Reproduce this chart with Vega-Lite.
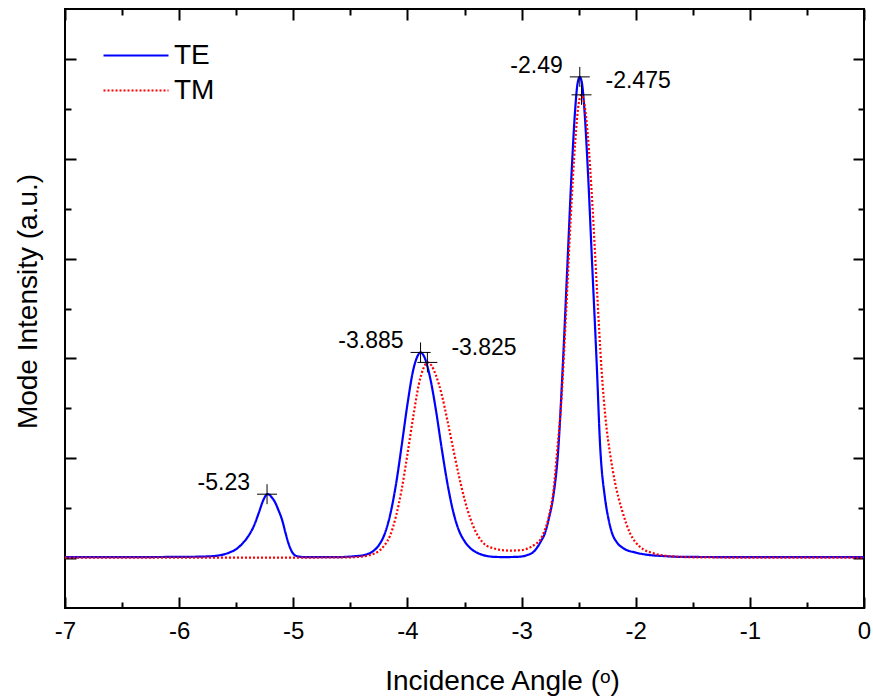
{
  "$schema": "https://vega.github.io/schema/vega-lite/v6.json",
  "width": 799,
  "height": 599,
  "autosize": "none",
  "padding": {"left": 65, "top": 9, "right": 9, "bottom": 89},
  "background": "white",
  "config": {
    "font": "Liberation Sans",
    "view": {"stroke": "black", "strokeWidth": 2},
    "axis": {"domain": false, "grid": false, "tickColor": "black", "tickWidth": 2, "labelColor": "black", "titleColor": "black", "titleFontWeight": "normal"}
  },
  "datasets": {
    "curves": [
      {"x": -7.0, "v": 0.01, "mode": "TE"}, {"x": -6.5, "v": 0.01, "mode": "TE"}, {"x": -6.0, "v": 0.012, "mode": "TE"},
      {"x": -5.8, "v": 0.015, "mode": "TE"}, {"x": -5.7, "v": 0.02, "mode": "TE"}, {"x": -5.6, "v": 0.04, "mode": "TE"},
      {"x": -5.55, "v": 0.06, "mode": "TE"}, {"x": -5.5, "v": 0.09, "mode": "TE"}, {"x": -5.45, "v": 0.14, "mode": "TE"},
      {"x": -5.4, "v": 0.21, "mode": "TE"}, {"x": -5.35, "v": 0.31, "mode": "TE"}, {"x": -5.3, "v": 0.46, "mode": "TE"},
      {"x": -5.27, "v": 0.56, "mode": "TE"}, {"x": -5.245, "v": 0.62, "mode": "TE"}, {"x": -5.23, "v": 0.64, "mode": "TE"},
      {"x": -5.21, "v": 0.635, "mode": "TE"}, {"x": -5.19, "v": 0.61, "mode": "TE"}, {"x": -5.16, "v": 0.56, "mode": "TE"},
      {"x": -5.13, "v": 0.48, "mode": "TE"}, {"x": -5.1, "v": 0.39, "mode": "TE"}, {"x": -5.07, "v": 0.26, "mode": "TE"},
      {"x": -5.04, "v": 0.14, "mode": "TE"}, {"x": -5.01, "v": 0.06, "mode": "TE"}, {"x": -4.97, "v": 0.02, "mode": "TE"},
      {"x": -4.9, "v": 0.01, "mode": "TE"}, {"x": -4.6, "v": 0.01, "mode": "TE"}, {"x": -4.45, "v": 0.02, "mode": "TE"},
      {"x": -4.4, "v": 0.025, "mode": "TE"}, {"x": -4.35, "v": 0.04, "mode": "TE"}, {"x": -4.3, "v": 0.07, "mode": "TE"},
      {"x": -4.25, "v": 0.13, "mode": "TE"}, {"x": -4.2, "v": 0.24, "mode": "TE"}, {"x": -4.15, "v": 0.44, "mode": "TE"},
      {"x": -4.1, "v": 0.74, "mode": "TE"}, {"x": -4.05, "v": 1.13, "mode": "TE"}, {"x": -4.0, "v": 1.54, "mode": "TE"},
      {"x": -3.95, "v": 1.88, "mode": "TE"}, {"x": -3.92, "v": 2.0, "mode": "TE"}, {"x": -3.885, "v": 2.06, "mode": "TE"},
      {"x": -3.85, "v": 2.01, "mode": "TE"}, {"x": -3.8, "v": 1.8, "mode": "TE"}, {"x": -3.75, "v": 1.48, "mode": "TE"},
      {"x": -3.7, "v": 1.1, "mode": "TE"}, {"x": -3.65, "v": 0.75, "mode": "TE"}, {"x": -3.6, "v": 0.47, "mode": "TE"},
      {"x": -3.55, "v": 0.28, "mode": "TE"}, {"x": -3.5, "v": 0.17, "mode": "TE"}, {"x": -3.45, "v": 0.1, "mode": "TE"},
      {"x": -3.4, "v": 0.06, "mode": "TE"}, {"x": -3.35, "v": 0.035, "mode": "TE"}, {"x": -3.3, "v": 0.02, "mode": "TE"},
      {"x": -3.25, "v": 0.013, "mode": "TE"}, {"x": -3.15, "v": 0.01, "mode": "TE"}, {"x": -3.05, "v": 0.012, "mode": "TE"},
      {"x": -3.0, "v": 0.016, "mode": "TE"}, {"x": -2.95, "v": 0.03, "mode": "TE"}, {"x": -2.9, "v": 0.058, "mode": "TE"},
      {"x": -2.867, "v": 0.1, "mode": "TE"},
      {"x": -2.83, "v": 0.17, "mode": "TE"}, {"x": -2.795, "v": 0.25, "mode": "TE"}, {"x": -2.76, "v": 0.4, "mode": "TE"},
      {"x": -2.722, "v": 0.62, "mode": "TE"}, {"x": -2.679, "v": 1.08, "mode": "TE"}, {"x": -2.64, "v": 1.9, "mode": "TE"},
      {"x": -2.6, "v": 2.9, "mode": "TE"}, {"x": -2.56, "v": 3.9, "mode": "TE"}, {"x": -2.53, "v": 4.5, "mode": "TE"},
      {"x": -2.51, "v": 4.75, "mode": "TE"}, {"x": -2.49, "v": 4.82, "mode": "TE"}, {"x": -2.47, "v": 4.75, "mode": "TE"},
      {"x": -2.45, "v": 4.5, "mode": "TE"}, {"x": -2.42, "v": 3.9, "mode": "TE"}, {"x": -2.38, "v": 2.9, "mode": "TE"},
      {"x": -2.34, "v": 1.9, "mode": "TE"}, {"x": -2.313, "v": 1.15, "mode": "TE"}, {"x": -2.269, "v": 0.6, "mode": "TE"},
      {"x": -2.24, "v": 0.4, "mode": "TE"}, {"x": -2.21, "v": 0.26, "mode": "TE"}, {"x": -2.16, "v": 0.15, "mode": "TE"},
      {"x": -2.11, "v": 0.1, "mode": "TE"}, {"x": -2.0, "v": 0.055, "mode": "TE"}, {"x": -1.875, "v": 0.03, "mode": "TE"},
      {"x": -1.75, "v": 0.02, "mode": "TE"}, {"x": -1.6, "v": 0.012, "mode": "TE"}, {"x": -1.0, "v": 0.01, "mode": "TE"},
      {"x": -0.5, "v": 0.01, "mode": "TE"}, {"x": 0.0, "v": 0.01, "mode": "TE"},

      {"x": -7.0, "v": 0.005, "mode": "TM"}, {"x": -6.0, "v": 0.005, "mode": "TM"}, {"x": -5.0, "v": 0.005, "mode": "TM"},
      {"x": -4.5, "v": 0.008, "mode": "TM"}, {"x": -4.45, "v": 0.01, "mode": "TM"}, {"x": -4.4, "v": 0.015, "mode": "TM"},
      {"x": -4.35, "v": 0.025, "mode": "TM"}, {"x": -4.3, "v": 0.04, "mode": "TM"}, {"x": -4.25, "v": 0.07, "mode": "TM"},
      {"x": -4.2, "v": 0.13, "mode": "TM"}, {"x": -4.15, "v": 0.23, "mode": "TM"}, {"x": -4.1, "v": 0.42, "mode": "TM"},
      {"x": -4.05, "v": 0.69, "mode": "TM"}, {"x": -4.0, "v": 1.04, "mode": "TM"}, {"x": -3.95, "v": 1.41, "mode": "TM"},
      {"x": -3.9, "v": 1.74, "mode": "TM"}, {"x": -3.86, "v": 1.9, "mode": "TM"}, {"x": -3.825, "v": 1.96, "mode": "TM"},
      {"x": -3.79, "v": 1.93, "mode": "TM"}, {"x": -3.75, "v": 1.83, "mode": "TM"}, {"x": -3.7, "v": 1.64, "mode": "TM"},
      {"x": -3.65, "v": 1.38, "mode": "TM"}, {"x": -3.6, "v": 1.1, "mode": "TM"}, {"x": -3.55, "v": 0.83, "mode": "TM"},
      {"x": -3.5, "v": 0.59, "mode": "TM"}, {"x": -3.45, "v": 0.4, "mode": "TM"}, {"x": -3.4, "v": 0.26, "mode": "TM"},
      {"x": -3.35, "v": 0.17, "mode": "TM"}, {"x": -3.3, "v": 0.12, "mode": "TM"}, {"x": -3.25, "v": 0.1, "mode": "TM"},
      {"x": -3.2, "v": 0.085, "mode": "TM"}, {"x": -3.1, "v": 0.075, "mode": "TM"}, {"x": -3.0, "v": 0.08, "mode": "TM"},
      {"x": -2.95, "v": 0.095, "mode": "TM"}, {"x": -2.92, "v": 0.11, "mode": "TM"}, {"x": -2.88, "v": 0.14, "mode": "TM"},
      {"x": -2.838, "v": 0.18, "mode": "TM"}, {"x": -2.8, "v": 0.27, "mode": "TM"}, {"x": -2.76, "v": 0.42, "mode": "TM"},
      {"x": -2.72, "v": 0.68, "mode": "TM"}, {"x": -2.69, "v": 1.05, "mode": "TM"}, {"x": -2.65, "v": 1.6, "mode": "TM"},
      {"x": -2.61, "v": 2.46, "mode": "TM"}, {"x": -2.57, "v": 3.39, "mode": "TM"}, {"x": -2.53, "v": 4.17, "mode": "TM"},
      {"x": -2.5, "v": 4.55, "mode": "TM"}, {"x": -2.475, "v": 4.64, "mode": "TM"}, {"x": -2.45, "v": 4.55, "mode": "TM"},
      {"x": -2.42, "v": 4.24, "mode": "TM"}, {"x": -2.38, "v": 3.55, "mode": "TM"}, {"x": -2.34, "v": 2.7, "mode": "TM"},
      {"x": -2.3, "v": 1.9, "mode": "TM"}, {"x": -2.26, "v": 1.35, "mode": "TM"}, {"x": -2.225, "v": 1.05, "mode": "TM"},
      {"x": -2.18, "v": 0.75, "mode": "TM"}, {"x": -2.12, "v": 0.48, "mode": "TM"}, {"x": -2.05, "v": 0.25, "mode": "TM"},
      {"x": -1.96, "v": 0.11, "mode": "TM"}, {"x": -1.85, "v": 0.05, "mode": "TM"}, {"x": -1.75, "v": 0.025, "mode": "TM"},
      {"x": -1.65, "v": 0.015, "mode": "TM"}, {"x": -1.5, "v": 0.008, "mode": "TM"}, {"x": -1.0, "v": 0.005, "mode": "TM"},
      {"x": 0.0, "v": 0.005, "mode": "TM"}
    ],
    "peaks": [
      {"x": -5.23, "v": 0.64, "label": "-5.23", "mode": "TE"},
      {"x": -3.885, "v": 2.06, "label": "-3.885", "mode": "TE"},
      {"x": -3.825, "v": 1.96, "label": "-3.825", "mode": "TM"},
      {"x": -2.49, "v": 4.82, "label": "-2.49", "mode": "TE"},
      {"x": -2.475, "v": 4.64, "label": "-2.475", "mode": "TM"}
    ]
  },
  "layer": [
    {
      "data": {"name": "curves"},
      "mark": {"type": "line", "strokeWidth": 2.2, "interpolate": "monotone"},
      "encoding": {
        "x": {
          "field": "x", "type": "quantitative",
          "scale": {"domain": [-7, 0], "nice": false, "zero": false},
          "axis": {
            "orient": "bottom",
            "values": [-7, -6.5, -6, -5.5, -5, -4.5, -4, -3.5, -3, -2.5, -2, -1.5, -1, -0.5, 0],
            "tickSize": {"condition": {"test": "datum.value % 1 === 0", "value": -11}, "value": -6},
            "labelExpr": "datum.value % 1 === 0 ? (datum.value + '') : ''",
            "labelFontSize": 24, "labelFlush": false, "labelPadding": 22,
            "title": "Incidence Angle (ᵒ)", "titleFontSize": 28, "titlePadding": 24,
            "titleX": 437, "titleAlign": "center"
          }
        },
        "y": {
          "field": "v", "type": "quantitative",
          "scale": {"domain": [-0.5, 5.5], "nice": false, "zero": false},
          "axis": {
            "orient": "left",
            "values": [0, 0.5, 1, 1.5, 2, 2.5, 3, 3.5, 4, 4.5, 5],
            "tickSize": {"condition": {"test": "datum.value % 1 === 0", "value": -11}, "value": -6},
            "labels": false,
            "title": "Mode Intensity (a.u.)", "titleFontSize": 28, "titlePadding": 22,
            "titleY": 292, "titleAlign": "center"
          }
        },
        "color": {
          "field": "mode", "type": "nominal",
          "scale": {"domain": ["TE", "TM"], "range": ["#0000ff", "#ff0000"]},
          "legend": {
            "orient": "none", "legendX": 37, "legendY": 33, "title": null,
            "labelFontSize": 28, "labelColor": "black", "symbolType": "stroke",
            "symbolSize": 4225, "symbolStrokeWidth": 2.2, "rowPadding": 6, "clipHeight": 27, "labelOffset": 4
          }
        },
        "strokeDash": {
          "field": "mode", "type": "nominal",
          "scale": {"domain": ["TE", "TM"], "range": [[1, 0], [2, 2]]},
          "legend": {
            "orient": "none", "legendX": 37, "legendY": 33, "title": null,
            "labelFontSize": 28, "labelColor": "black", "symbolType": "stroke",
            "symbolSize": 4225, "symbolStrokeWidth": 2.2, "rowPadding": 6, "clipHeight": 27, "labelOffset": 4
          }
        }
      }
    },
    {
      "data": {"name": "peaks"},
      "mark": {"type": "point", "shape": "M-1,0L1,0M0,-1L0,1", "size": 400, "stroke": "black", "strokeWidth": 1, "filled": false, "opacity": 1},
      "encoding": {
        "x": {"field": "x", "type": "quantitative", "axis": null},
        "y": {"field": "v", "type": "quantitative", "axis": null}
      }
    },
    {
      "data": {"name": "peaks"},
      "transform": [{"filter": "datum.mode === 'TE'"}],
      "mark": {"type": "text", "align": "right", "baseline": "alphabetic", "dx": -17, "dy": -4, "fontSize": 23, "color": "black"},
      "encoding": {
        "x": {"field": "x", "type": "quantitative", "axis": null},
        "y": {"field": "v", "type": "quantitative", "axis": null},
        "text": {"field": "label"}
      }
    },
    {
      "data": {"name": "peaks"},
      "transform": [{"filter": "datum.mode === 'TM'"}],
      "mark": {"type": "text", "align": "left", "baseline": "alphabetic", "dx": 24, "dy": -7, "fontSize": 23, "color": "black"},
      "encoding": {
        "x": {"field": "x", "type": "quantitative", "axis": null},
        "y": {"field": "v", "type": "quantitative", "axis": null},
        "text": {"field": "label"}
      }
    },
    {
      "data": {"name": "peaks"},
      "mark": {"type": "point", "opacity": 0},
      "encoding": {
        "x": {
          "field": "x", "type": "quantitative",
          "axis": {
            "orient": "top",
            "values": [-7, -6.5, -6, -5.5, -5, -4.5, -4, -3.5, -3, -2.5, -2, -1.5, -1, -0.5, 0],
            "tickSize": {"condition": {"test": "datum.value % 1 === 0", "value": -11}, "value": -6},
            "labels": false, "title": null
          }
        },
        "y": {
          "field": "v", "type": "quantitative",
          "axis": {
            "orient": "right",
            "values": [0, 0.5, 1, 1.5, 2, 2.5, 3, 3.5, 4, 4.5, 5],
            "tickSize": {"condition": {"test": "datum.value % 1 === 0", "value": -11}, "value": -6},
            "labels": false, "title": null
          }
        }
      }
    }
  ],
  "resolve": {"axis": {"x": "independent", "y": "independent"}}
}
